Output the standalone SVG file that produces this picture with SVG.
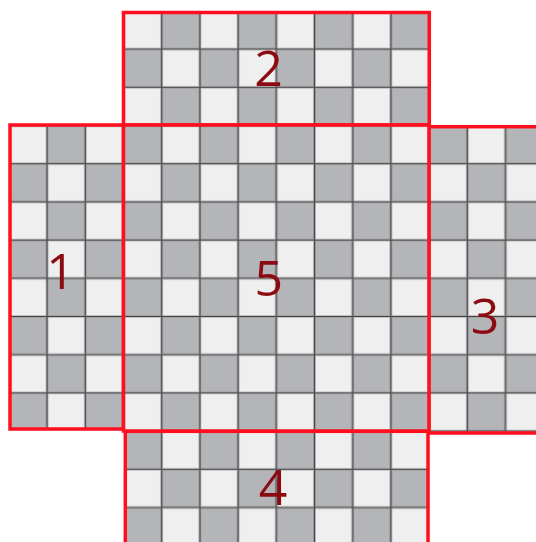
<svg xmlns="http://www.w3.org/2000/svg" width="536" height="542" viewBox="0 0 536 542">
  <defs>
    <pattern id="checker" patternUnits="userSpaceOnUse" x="123.5" y="125.5" width="76.4" height="76.4">
      <rect x="0" y="0" width="76.4" height="76.4" fill="#efefef"/>
      <rect x="0" y="0" width="38.2" height="38.2" fill="#b4b5b9"/>
      <rect x="38.2" y="38.2" width="38.2" height="38.2" fill="#b4b5b9"/>
      <path d="M0,0V76.4M38.2,0V76.4M76.4,0V76.4M0,0H76.4M0,38.2H76.4M0,76.4H76.4" stroke="#8a8a8a" stroke-opacity="0.45" stroke-width="3" fill="none"/>
      <path d="M0,0V76.4M38.2,0V76.4M76.4,0V76.4M0,0H76.4M0,38.2H76.4M0,76.4H76.4" stroke="#464646" stroke-width="1.2" fill="none"/>
    </pattern>
  </defs>
  <style>
    .fill { fill: url(#checker); stroke: none; }
    .border { fill: none; stroke: #ff0f1f; stroke-width: 3.5; }
    .num { font-family: "Open Sans", "Liberation Sans", sans-serif; font-size: 50px; fill: #8c0a12; text-anchor: middle; }
  </style>
  <rect x="0" y="0" width="536" height="542" fill="#ffffff"/>
  <g id="block1">
    <rect class="fill" x="10" y="125" width="113.5" height="304"/>
    <rect class="border" x="10" y="125" width="113.5" height="304"/>
    <text class="num" x="60.5" y="289">1</text>
  </g>
  <g id="block2">
    <rect class="fill" x="123.5" y="12.5" width="305.8" height="112.5"/>
    <rect class="border" x="123.5" y="12.5" width="305.8" height="112.5"/>
    <text class="num" x="268.5" y="86">2</text>
  </g>
  <g id="block3">
    <rect class="fill" x="428.7" y="126.7" width="112" height="306.3"/>
    <rect class="border" x="428.7" y="126.7" width="112" height="306.3"/>
    <text class="num" x="485" y="334">3</text>
  </g>
  <g id="block4">
    <rect class="fill" x="125.3" y="431.3" width="302.7" height="115"/>
    <rect class="border" x="125.3" y="431.3" width="302.7" height="115"/>
    <text class="num" x="273" y="505">4</text>
  </g>
  <g id="block5">
    <rect class="fill" x="123.5" y="125" width="305.5" height="306"/>
    <rect class="border" x="123.5" y="125" width="305.5" height="306"/>
    <text class="num" x="268.7" y="296">5</text>
  </g>
  <g id="connectors"/>
</svg>
